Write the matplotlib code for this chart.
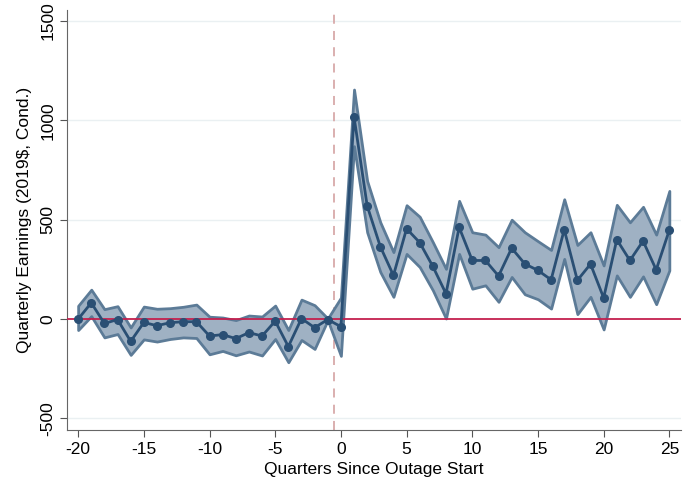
import numpy as np
import matplotlib.pyplot as plt

plt.rcParams['font.family'] = ['Liberation Sans', 'DejaVu Sans']
plt.rcParams['font.size'] = 12.5
plt.rcParams['axes.unicode_minus'] = False

# event-study data
quarters = np.arange(-20, 26)
coef = [0, 82, -22, -2, -112, -17, -33, -18, -13, -13,
        -85, -78, -98, -68, -85, -10, -138, 3, -43, -2,
        -38, 1018, 570, 365, 220, 455, 385, 265, 128, 462,
        295, 295, 217, 357, 278, 245, 198, 450, 195, 277,
        107, 400, 295, 393, 248, 448]
upper = [67, 148, 50, 65, -42, 63, 52, 55, 62, 73,
         12, 8, -5, 18, 13, 68, -55, 98, 70, 3,
         108, 1155, 695, 487, 337, 573, 515, 387, 253, 595,
         437, 425, 362, 500, 437, 392, 348, 603, 373, 437,
         270, 575, 487, 565, 425, 645]
lower = [-55, 15, -92, -75, -180, -102, -113, -100, -92, -95,
         -177, -160, -182, -163, -183, -100, -217, -105, -150, -5,
         -185, 870, 437, 237, 112, 328, 262, 145, 3, 328,
         153, 170, 87, 212, 125, 100, 53, 303, 25, 112,
         -52, 220, 112, 215, 75, 245]

fig = plt.figure(figsize=(6.94, 4.87), dpi=100)
ax = fig.add_axes([0.0965, 0.117, 0.885, 0.862])

# grid
for yv in [-500, 500, 1000, 1500]:
    ax.axhline(yv, color='#eaf0f2', linewidth=1, zorder=0)

ax.fill_between(quarters, lower, upper, facecolor='#9fb1c3', edgecolor='#5c7b97',
                linewidth=2, zorder=2)
ax.axhline(0, color='#c4204e', linewidth=1.3, zorder=3)
ax.axvline(-0.5, color='#d8a9a9', linewidth=1.3, linestyle=(0, (5, 4)), zorder=1)
ax.plot(quarters, coef, color='#2a4f74', linewidth=2, marker='o', markersize=5.5, zorder=4)

ax.set_xlim(-20.85, 25.9)
ax.set_ylim(-558, 1554)
ax.set_xticks(np.arange(-20, 26, 5))
ax.set_yticks([-500, 0, 500, 1000, 1500])
ax.set_yticklabels(['-500', '0', '500', '1000', '1500'], rotation=90, va='center')
ax.tick_params(direction='out', length=5, color='#555555')

for s in ['top', 'right']:
    ax.spines[s].set_visible(False)
for s in ['left', 'bottom']:
    ax.spines[s].set_color('#666666')

ax.set_xlabel('Quarters Since Outage Start')
ax.set_ylabel('Quarterly Earnings (2019$, Cond.)', labelpad=6)

fig.savefig('out.png', dpi=100)
